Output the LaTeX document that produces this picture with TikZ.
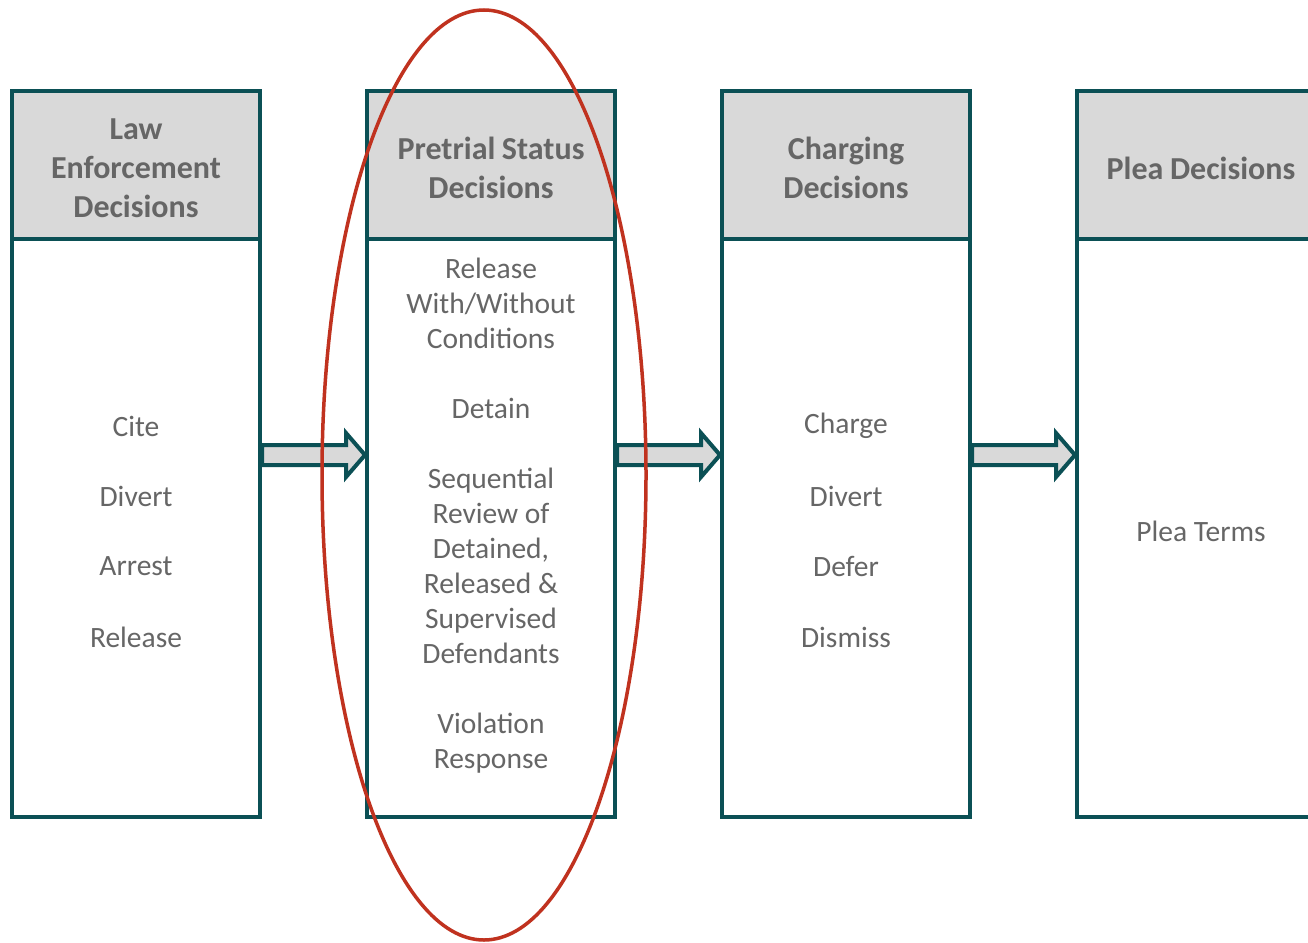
\documentclass[tikz,border=0pt]{standalone}
\usepackage{fontspec}
\setmainfont{Carlito}
\usetikzlibrary{calc}
\definecolor{frameteal}{HTML}{0B5055}
\definecolor{headgray}{HTML}{D9D9D9}
\definecolor{textgray}{HTML}{666666}
\definecolor{ringred}{HTML}{C0321F}
\newcommand{\stagehead}{\bfseries\fontsize{32}{39}\selectfont\spaceskip=6.5pt plus 2pt minus 1pt\relax}
\begin{document}
\begin{tikzpicture}[x=1pt,y=-1pt,
  headbox/.style={draw=frameteal, line width=4pt, fill=headgray,
    minimum width=248pt, minimum height=148pt, inner sep=0pt},
  headtext/.style={text=textgray, inner sep=0pt, align=center,
    font=\stagehead},
  bodybox/.style={draw=frameteal, line width=4pt, fill=white,
    minimum width=248pt, minimum height=578pt, inner sep=0pt},
  itemtext/.style={text=textgray, font=\fontsize{29.5}{35}\selectfont,
    align=center, inner sep=0pt},
  blockarrow/.style={draw=frameteal, line width=4pt, fill=headgray,
    line join=miter}]
\useasboundingbox (0,0) rectangle (1308,942);
\fill[white] (0,0) rectangle (1308,942);

% columns: body and header of each stage
\foreach \i/\x in {1/136,2/491,3/846,4/1201}{
  \node[bodybox] (b\i) at (\x,528) {};
  \node[headbox] (h\i) at (\x,165) {};
}
\node[headtext] (t1) at ($(h1.center)+(0,3)$) {Law\\Enforcement\\Decisions};
\node[headtext] (t2) at ($(h2.center)+(0,3)$) {Pretrial Status\\Decisions};
\node[headtext] (t3) at ($(h3.center)+(0,3)$) {Charging\\Decisions};
\node[headtext] (t4) at ($(h4.center)+(0,3)$) {Plea Decisions};

% block arrows between the stages
\foreach \a/\b in {1/2,2/3,3/4}{
  \coordinate (s\a) at (b\a.east |- 0,455);
  \coordinate (e\a) at (b\b.west |- 0,455);
  \draw[blockarrow] ($(s\a)+(0,-10)$) -- ($(e\a)+(-19,-10)$) -- ($(e\a)+(-19,-22)$)
    -- (e\a) -- ($(e\a)+(-19,22)$) -- ($(e\a)+(-19,10)$) -- ($(s\a)+(0,10)$) -- cycle;
}

% law enforcement options
\node[itemtext] (c1a) at (136,426) {Cite};
\node[itemtext] (c1b) at (136,496) {Divert};
\node[itemtext] (c1c) at (136,566) {Arrest};
\node[itemtext] (c1d) at (136,637) {Release};

% pretrial options
\node[itemtext] (c2a) at (491,303) {Release\\With/Without\\Conditions};
\node[itemtext] (c2b) at (491,408) {Detain};
\node[itemtext] (c2c) at (491,566) {Sequential\\Review of\\Detained,\\Released \&\\Supervised\\Defendants};
\node[itemtext] (c2d) at (491,743) {Violation\\Response};

% charging options
\node[itemtext] (c3a) at (846,426) {Charge};
\node[itemtext] (c3b) at (846,496) {Divert};
\node[itemtext] (c3c) at (846,566) {Defer};
\node[itemtext] (c3d) at (846,637) {Dismiss};

% plea options
\node[itemtext] (c4a) at (1201,531) {Plea Terms};

% highlight ring round the pretrial stage
\draw[ringred, line width=3.5pt] (484,475) ellipse [x radius=162, y radius=465];
\end{tikzpicture}
\end{document}
